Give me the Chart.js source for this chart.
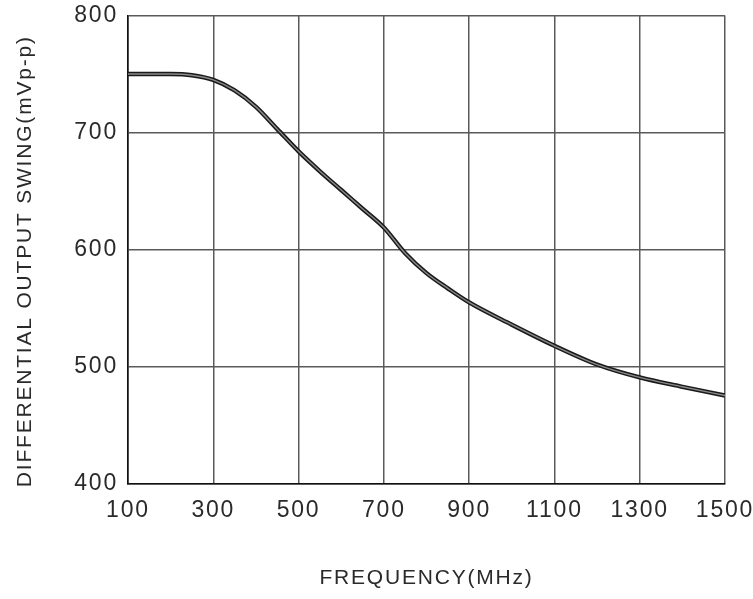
<!DOCTYPE html>
<html>
<head>
<meta charset="utf-8">
<script src="https://cdn.jsdelivr.net/npm/chart.js@4.4.1/dist/chart.umd.min.js"></script>
<style>
  html, body { margin: 0; padding: 0; background: #fff; }
  #wrap { width: 753px; height: 599px; }
</style>
</head>
<body>
<div id="wrap"><canvas id="graph"></canvas></div>
<script>
let frequency = [100, 150, 200, 250, 300, 350, 400, 450, 500, 550, 600, 650, 700, 750, 800, 850, 900, 1000, 1100, 1200, 1300, 1400, 1500];
let swing = [750, 750, 750, 749, 745, 736, 722, 703, 684, 667, 651, 635, 619, 597, 580, 567, 555, 536, 518, 502, 491, 483, 475.5];

let x_ticks = [100, 300, 500, 700, 900, 1100, 1300, 1500];
let y_ticks = [400, 500, 600, 700, 800];

const points = frequency.map((f, i) => ({ x: f, y: swing[i] }));

// spread the letters a bit, like the plotter font in the original
const spacing = {
  id: "spacing",
  beforeUpdate: (chart) => { chart.ctx.letterSpacing = "1.8px"; },
  beforeDraw: (chart) => { chart.ctx.letterSpacing = "1.8px"; },
};

Chart.defaults.font.family = "'Liberation Sans', Arial, sans-serif";
Chart.defaults.color = "#2a2a2a";

const chart_element = document.getElementById("graph").getContext("2d");

new Chart(chart_element, {
  type: "line",
  data: {
    datasets: [
      {
        data: points,
        borderColor: "#8a8a8a",
        borderWidth: 1.4,
        fill: false,
        cubicInterpolationMode: "monotone",
      },
      {
        data: points,
        borderColor: "#1a1a1a",
        borderWidth: 4.4,
        fill: false,
        cubicInterpolationMode: "monotone",
      },
    ],
  },
  options: {
    animation: false,
    responsive: true,
    maintainAspectRatio: false,
    elements: { point: { radius: 0 } },
    layout: { padding: 0 },
    plugins: {
      legend: { display: false },
      tooltip: { enabled: false },
    },
    scales: {
      x: {
        type: "linear",
        min: 100,
        max: 1500,
        afterBuildTicks: (scale) => { scale.ticks = x_ticks.map((v) => ({ value: v })); },
        afterFit: (scale) => {
          scale.height = 115;
          scale.paddingLeft = 0;
          scale.paddingRight = 28;
        },
        grid: { color: "#5a5a5a", lineWidth: 1.5, drawTicks: false },
        border: { color: "#111", width: 1.6 },
        ticks: { padding: 13, maxRotation: 0, font: { size: 23 }, callback: (v) => String(v) },
        title: {
          display: true,
          text: "FREQUENCY(MHz)",
          font: { size: 21 },
          padding: { top: 8, bottom: 8 },
        },
      },
      y: {
        min: 400,
        max: 800,
        afterBuildTicks: (scale) => { scale.ticks = y_ticks.map((v) => ({ value: v })); },
        afterFit: (scale) => {
          scale.width = 128;
          scale.paddingTop = 15.5;
          scale.paddingBottom = 0;
        },
        grid: { color: "#5a5a5a", lineWidth: 1.5, drawTicks: false },
        border: { color: "#111", width: 1.6 },
        ticks: { padding: 10, font: { size: 23 }, callback: (v) => String(v) },
        title: {
          display: true,
          text: "DIFFERENTIAL OUTPUT SWING(mVp-p)   ",
          font: { size: 21 },
          padding: { top: 13, bottom: 10 },
        },
      },
    },
  },
  plugins: [spacing],
});
</script>
</body>
</html>
